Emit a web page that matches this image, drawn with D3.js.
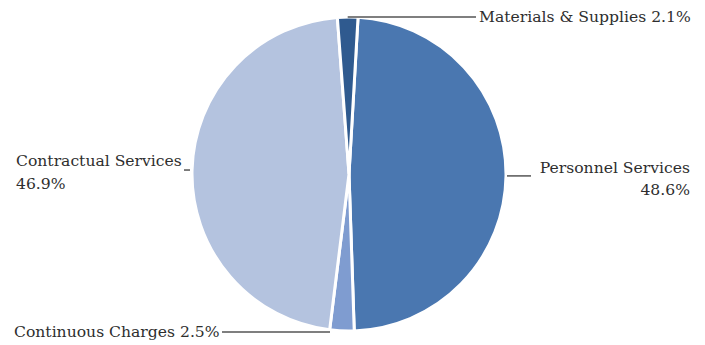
<!DOCTYPE html>
<html>
<head>
<meta charset="utf-8">
<script src="https://cdn.jsdelivr.net/npm/d3@7/dist/d3.min.js"></script>
<style>
  html, body { margin: 0; padding: 0; background: #fff; }
  svg text { font-family: "DejaVu Serif", "Liberation Serif", serif; fill: #2e2e2e; }
</style>
</head>
<body>
<svg id="chart" width="705" height="345"></svg>
<script>
// Budget share by expense category (percent), clockwise from the top
const categories = ["Personnel Services", "Continuous Charges", "Contractual Services", "Materials & Supplies"];
const shares = [48.6, 2.5, 46.9, 2.1];
const colors = ["#4a77b0", "#7f9cd0", "#b4c3df", "#2f5a8f"];

const svg = d3.select("#chart");
const cx = 349, cy = 174, radius = 157;
const rotation = 3.3 * Math.PI / 180;

const data = categories.map((name, i) => ({ name, value: shares[i], color: colors[i] }));

const pie = d3.pie()
  .sort(null)
  .value(d => d.value)
  .startAngle(rotation)
  .endAngle(rotation + 2 * Math.PI);

const arc = d3.arc().innerRadius(0).outerRadius(radius);
const arcs = pie(data);

const g = svg.append("g").attr("transform", `translate(${cx},${cy})`);

g.selectAll("path.slice")
  .data(arcs)
  .join("path")
  .attr("class", "slice")
  .attr("d", arc)
  .attr("fill", d => d.data.color)
  .attr("stroke", "#fff")
  .attr("stroke-width", 3)
  .attr("stroke-linejoin", "miter");

// Point on the rim at a slice's middle angle
function rimPoint(d, r) {
  const a = (d.startAngle + d.endAngle) / 2;
  return [cx + r * Math.sin(a), cy - r * Math.cos(a)];
}

const fmt = v => v.toFixed(1) + "%";
const lineColor = "#555";
const fs = 15.6;

// Label layout for each category: leader line end and text placement
const layout = {
  "Materials & Supplies": { r: radius, lineTo: 476, anchor: "start", x: 479, lines: d => [d.data.name + " " + fmt(d.data.value)], y0: 22, dy: 22 },
  "Personnel Services": { r: radius + 1, lineTo: 531, anchor: "end", x: 690, lines: d => [d.data.name, fmt(d.data.value)], y0: 173, dy: 22 },
  "Contractual Services": { r: radius + 4, lineTo: 184, anchor: "start", x: 16, lines: d => [d.data.name, fmt(d.data.value)], y0: 166, dy: 23 },
  "Continuous Charges": { r: radius - 1, lineTo: 222, anchor: "start", x: 14, lines: d => [d.data.name + " " + fmt(d.data.value)], y0: 337, dy: 22 }
};

arcs.forEach(d => {
  const L = layout[d.data.name];
  const [px, py] = rimPoint(d, L.r);
  let x1 = px, y1 = py;
  if (d.data.name === "Contractual Services") { x1 = 190; }
  if (d.data.name === "Continuous Charges") { x1 = 330; y1 = 332; }
  if (d.data.name === "Materials & Supplies") { y1 = 17; }
  svg.append("line")
    .attr("x1", x1).attr("y1", y1)
    .attr("x2", L.lineTo).attr("y2", y1)
    .attr("stroke", lineColor)
    .attr("stroke-width", 1.5);

  const t = svg.append("text")
    .attr("font-size", fs)
    .attr("text-anchor", L.anchor);
  L.lines(d).forEach((s, i) => {
    t.append("tspan").attr("x", L.x).attr("y", L.y0 + i * L.dy).text(s);
  });
});
</script>
</body>
</html>
